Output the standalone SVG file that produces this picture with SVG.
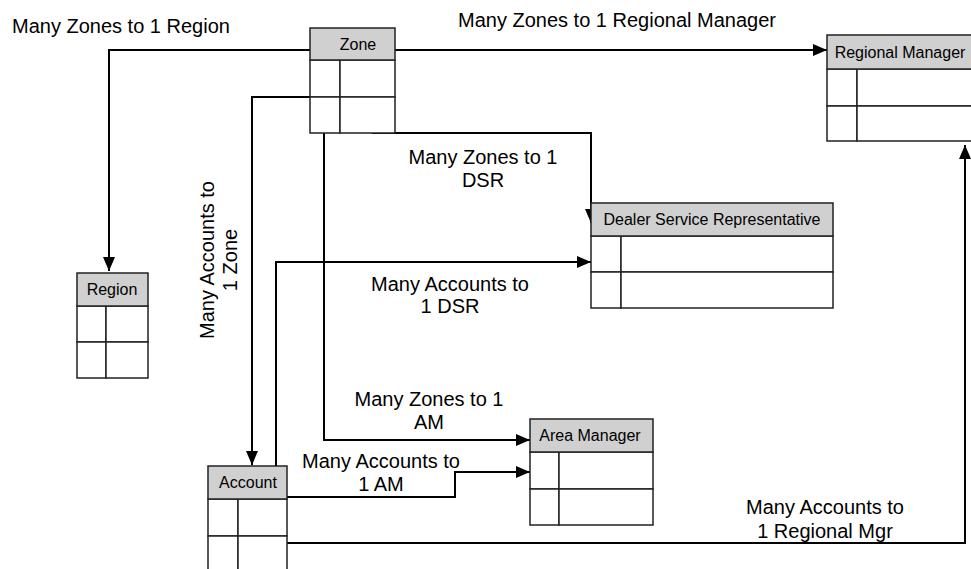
<svg xmlns="http://www.w3.org/2000/svg" width="971" height="569" viewBox="0 0 971 569">
<style>
.hdr{fill:#d0d0d0;stroke:#222;stroke-width:1.5}
.cell{fill:#fff;stroke:#222;stroke-width:1.5}
.ht{font-family:"Liberation Sans",Arial,sans-serif;font-size:16px;fill:#000;text-anchor:middle}
.lbl{font-family:"Liberation Sans",Arial,sans-serif;font-size:20px;fill:#000;text-anchor:middle}
.lbl0{font-family:"Liberation Sans",Arial,sans-serif;font-size:20px;fill:#000}
.c{fill:none;stroke:#000;stroke-width:2}
</style>
<defs>
<marker id="ah" viewBox="0 0 14 12" refX="14" refY="6" markerWidth="14" markerHeight="12" markerUnits="userSpaceOnUse" orient="auto">
<path d="M0,0 L14,6 L0,12 Z" fill="#000"/>
</marker>
</defs>
<rect width="971" height="569" fill="#fff"/>

<g id="connectors">
<path class="c" d="M310,50 H109 V271" marker-end="url(#ah)"/>
<path class="c" d="M395,50 H827" marker-end="url(#ah)"/>
<path class="c" d="M372,133 H591 V223" marker-end="url(#ah)"/>
<path class="c" d="M324,133 V440 H530" marker-end="url(#ah)"/>
<path class="c" d="M310,97 H252 V465" marker-end="url(#ah)"/>
<path class="c" d="M276,466 V262 H591" marker-end="url(#ah)"/>
<path class="c" d="M287,497 H455 V472 H530" marker-end="url(#ah)"/>
<path class="c" d="M287,543 H965 V145" marker-end="url(#ah)"/>
</g>

<g id="labels">
<text class="lbl0" x="12" y="33">Many Zones to 1 Region</text>
<text class="lbl0" x="458" y="27">Many Zones to 1 Regional Manager</text>
<text class="lbl" x="483" y="164">Many Zones to 1</text>
<text class="lbl" x="483" y="187">DSR</text>
<text class="lbl" x="450" y="291">Many Accounts to</text>
<text class="lbl" x="450" y="313">1 DSR</text>
<text class="lbl" x="429" y="406">Many Zones to 1</text>
<text class="lbl" x="429" y="429">AM</text>
<text class="lbl" x="381" y="468">Many Accounts to</text>
<text class="lbl" x="381" y="491">1 AM</text>
<text class="lbl" x="825" y="514">Many Accounts to</text>
<text class="lbl" x="825" y="538">1 Regional Mgr</text>
<g transform="translate(214,260) rotate(-90)"><text class="lbl" x="0" y="0">Many Accounts to</text></g>
<g transform="translate(237,260) rotate(-90)"><text class="lbl" x="0" y="0">1 Zone</text></g>
</g>

<g id="zone">
<rect class="cell" x="310" y="60" width="30" height="37"/>
<rect class="cell" x="340" y="60" width="55" height="37"/>
<rect class="cell" x="310" y="97" width="30" height="36"/>
<rect class="cell" x="340" y="97" width="55" height="36"/>
<rect class="hdr" x="310" y="28" width="85" height="32"/>
<text class="ht" x="358" y="50">Zone</text>
</g>

<g id="regional-manager">
<rect class="cell" x="827" y="69" width="30" height="37"/>
<rect class="cell" x="857" y="69" width="120" height="37"/>
<rect class="cell" x="827" y="106" width="30" height="35"/>
<rect class="cell" x="857" y="106" width="120" height="35"/>
<rect class="hdr" x="827" y="35" width="150" height="34"/>
<text class="ht" x="900" y="58">Regional Manager</text>
</g>

<g id="dsr">
<rect class="cell" x="591" y="236" width="30" height="36"/>
<rect class="cell" x="621" y="236" width="212" height="36"/>
<rect class="cell" x="591" y="272" width="30" height="36"/>
<rect class="cell" x="621" y="272" width="212" height="36"/>
<rect class="hdr" x="591" y="203" width="242" height="33"/>
<text class="ht" x="712" y="225">Dealer Service Representative</text>
</g>

<g id="region">
<rect class="cell" x="77" y="306" width="29" height="36"/>
<rect class="cell" x="106" y="306" width="42" height="36"/>
<rect class="cell" x="77" y="342" width="29" height="36"/>
<rect class="cell" x="106" y="342" width="42" height="36"/>
<rect class="hdr" x="77" y="273" width="71" height="33"/>
<text class="ht" x="112" y="295">Region</text>
</g>

<g id="area-manager">
<rect class="cell" x="530" y="452" width="29" height="37"/>
<rect class="cell" x="559" y="452" width="94" height="37"/>
<rect class="cell" x="530" y="489" width="29" height="36"/>
<rect class="cell" x="559" y="489" width="94" height="36"/>
<rect class="hdr" x="530" y="419" width="123" height="33"/>
<text class="ht" x="590" y="441">Area Manager</text>
</g>

<g id="account">
<rect class="cell" x="208" y="499" width="30" height="37"/>
<rect class="cell" x="238" y="499" width="49" height="37"/>
<rect class="cell" x="208" y="536" width="30" height="40"/>
<rect class="cell" x="238" y="536" width="49" height="40"/>
<rect class="hdr" x="208" y="466" width="79" height="33"/>
<text class="ht" x="248" y="488">Account</text>
</g>
</svg>
